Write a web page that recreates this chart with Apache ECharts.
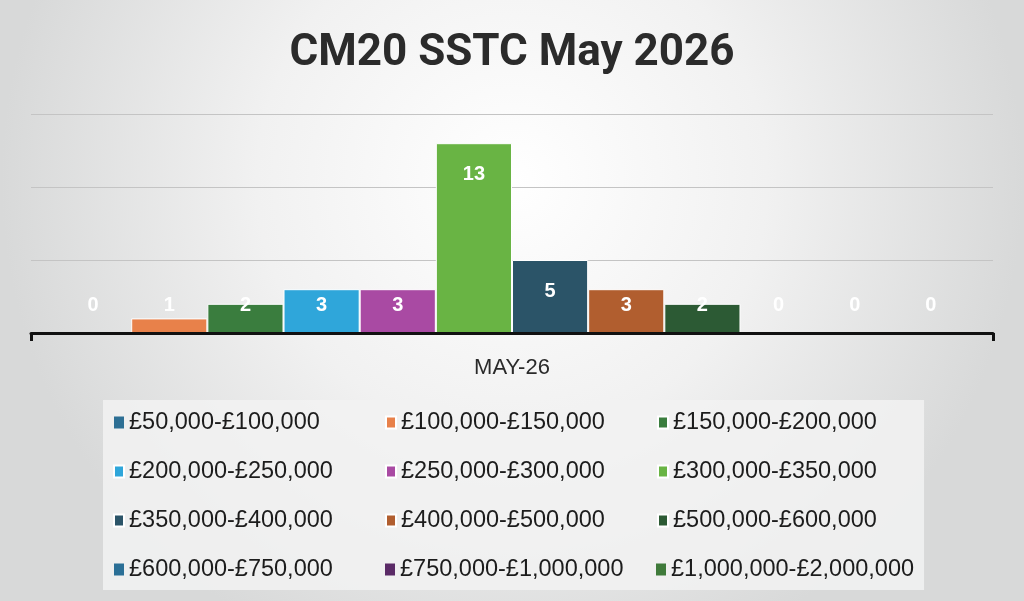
<!DOCTYPE html>
<html>
<head>
<meta charset="utf-8">
<title>CM20 SSTC May 2026</title>
<script src="https://cdn.jsdelivr.net/npm/echarts@6/dist/echarts.min.js"></script>
<style>
  html, body { margin: 0; padding: 0; }
  #chart { width: 1024px; height: 601px; }
</style>
</head>
<body>
<div id="chart"></div>
<script>
// data
const categories = ['MAY-26'];
const bands = [
  '£50,000-£100,000', '£100,000-£150,000', '£150,000-£200,000',
  '£200,000-£250,000', '£250,000-£300,000', '£300,000-£350,000',
  '£350,000-£400,000', '£400,000-£500,000', '£500,000-£600,000',
  '£600,000-£750,000', '£750,000-£1,000,000', '£1,000,000-£2,000,000'
];
const counts = [0, 1, 2, 3, 3, 13, 5, 3, 2, 0, 0, 0];
const bandColors = [
  '#2d6f94', '#e8814a', '#3a7d3e', '#2fa6da', '#a94aa3', '#69b444',
  '#2b5468', '#b15e2f', '#2c5a34', '#2a6f96', '#5a2a66', '#3f7a3a'
];

const chart = echarts.init(document.getElementById('chart'));

// tall bars get the label inside the top, short ones sit on a common line
const labelFor = v => v >= 5
  ? { position: 'insideTop', distance: 21 }
  : { position: 'insideBottom', distance: 18 };

const series = bands.map((name, i) => ({
  name,
  type: 'bar',
  data: [counts[i]],
  barGap: 0,
  barCategoryGap: '5%',
  itemStyle: {
    color: bandColors[i],
    borderColor: '#ffffff',
    borderWidth: counts[i] > 0 ? 1 : 0
  },
  label: Object.assign({
    show: true,
    color: '#ffffff',
    fontFamily: 'Liberation Sans',
    fontWeight: 'bold',
    fontSize: 20
  }, labelFor(counts[i]))
}));

chart.setOption({
  animation: false,
  backgroundColor: {
    type: 'radial', x: 0.5, y: 0.3, r: 0.85,
    colorStops: [
      { offset: 0, color: '#ffffff' },
      { offset: 0.5, color: '#f1f1f1' },
      { offset: 1, color: '#d8d9d9' }
    ]
  },
  title: {
    text: 'CM20 SSTC May 2026',
    left: 'center',
    top: 27,
    textStyle: { fontFamily: 'Roboto', fontWeight: 'bold', fontSize: 44, color: '#2b2b2b' }
  },
  grid: { left: 31, right: 31, top: 114, bottom: 268 },
  xAxis: {
    type: 'category',
    data: categories,
    z: 5,
    axisLine: { lineStyle: { color: '#111111', width: 3 } },
    axisTick: { show: true, length: 8, lineStyle: { color: '#111111', width: 3 } },
    axisLabel: { margin: 24, fontFamily: 'Liberation Sans', fontSize: 22, color: '#2a2a2a' }
  },
  yAxis: {
    type: 'value',
    min: 0,
    max: 15,
    interval: 5,
    axisLabel: { show: false },
    axisLine: { show: false },
    axisTick: { show: false },
    splitLine: { lineStyle: { color: '#c4c4c4', width: 1.2 } }
  },
  legend: {
    data: bands,
    left: 103,
    top: 400,
    width: 830,
    padding: [8, 10, 6, 10],
    backgroundColor: 'rgba(242,242,242,0.85)',
    icon: 'rect',
    itemWidth: 10,
    itemHeight: 12,
    itemGap: 20,
    selectedMode: false,
    textStyle: {
      fontFamily: 'Liberation Sans',
      fontSize: 23.5,
      color: '#1c1c1c',
      width: 236,
      lineHeight: 29
    }
  },
  series
});
</script>
</body>
</html>
